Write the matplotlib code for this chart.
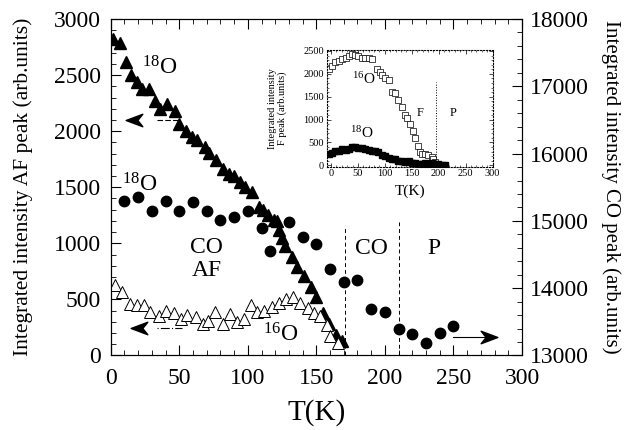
import matplotlib
matplotlib.use("Agg")
import matplotlib.pyplot as plt
from matplotlib.path import Path
from matplotlib.ticker import MultipleLocator

plt.rcParams['font.family'] = ['Liberation Serif', 'DejaVu Serif']
plt.rcParams['mathtext.fontset'] = 'custom'
plt.rcParams['mathtext.rm'] = 'Liberation Serif'

# AF peak, 18O sample (filled triangles, left axis)
af18_t = [2, 7, 11, 15, 19, 23, 28, 32, 36, 41, 47, 50, 55, 59, 63, 69, 72, 77, 82, 86,
          90, 94, 98, 103, 108, 111, 115, 119, 121, 123, 125, 127, 132, 136, 141, 146,
          150, 155, 159, 164, 169]
af18_y = [2820, 2790, 2620, 2505, 2435, 2380, 2380, 2270, 2195, 2240, 2180, 2060, 2000,
          1950, 1920, 1860, 1805, 1745, 1665, 1615, 1600, 1545, 1505, 1460, 1325, 1295,
          1255, 1210, 1195, 1120, 1045, 975, 880, 790, 705, 615, 520, 375, 285, 185, 125]

# AF peak, 16O sample (open triangles, left axis)
af16_t = [3, 8, 14, 19, 24, 29, 35, 40, 46, 51, 56, 62, 67, 71, 76, 82, 87, 92, 97, 102,
          107, 112, 118, 123, 128, 133, 138, 144, 148, 153, 158, 160, 166]
af16_y = [630, 570, 460, 450, 450, 390, 350, 395, 380, 325, 360, 345, 280, 310, 390, 285,
          370, 300, 325, 450, 390, 400, 435, 465, 500, 520, 470, 420, 375, 350, 270, 170, 115]

# CO peak, 18O sample (filled circles, right axis)
co18_t = [10, 20, 30, 40, 50, 60, 70, 80, 90, 100, 110, 116, 130, 140, 150, 160, 170, 180,
          190, 200, 210, 220, 230, 240, 250]
co18_y = [15300, 15360, 15140, 15300, 15140, 15275, 15140, 15015, 15065, 15150, 14890,
          14555, 14980, 14765, 14655, 14280, 14090, 14120, 13690, 13650, 13395, 13315,
          13180, 13340, 13440]

# inset: F peak for 16O (open squares) and 18O (filled squares)
f16_t = [-4, 2, 8, 14, 20, 27, 33, 39, 45, 51, 57, 64, 70, 76, 85, 91, 94, 101, 107, 113,
         119, 125, 132, 138, 141, 147, 153, 156, 162, 165, 169, 175, 181, 187, 190, 193,
         199, 206, 212]
f16_y = [2105, 2180, 2250, 2285, 2320, 2355, 2395, 2430, 2405, 2395, 2355, 2345, 2345,
         2320, 2105, 2035, 1965, 1915, 1855, 1605, 1570, 1430, 1285, 1105, 1035, 895, 750,
         605, 430, 285, 250, 250, 215, 180, 145, 70, 35, 0, 0]
f18_t = [-4, 2, 8, 14, 20, 27, 33, 39, 45, 51, 57, 64, 70, 76, 82, 88, 94, 101, 107, 113,
         119, 125, 132, 138, 144, 150, 156, 162, 169, 175, 181, 187, 193, 199, 206, 212]
f18_y = [250, 270, 320, 320, 355, 345, 355, 395, 405, 380, 370, 355, 345, 320, 320, 285,
         215, 195, 155, 145, 145, 105, 95, 70, 85, 50, 55, 35, 35, 55, 35, 50, 35, 20, 0, 0]

# phase boundaries
t_co = 171
t_p = 210
t_f = 195

# arrowhead markers
head_left = Path([(-1, 0), (1, 0.75), (0.4, 0), (1, -0.75), (-1, 0)],
                 [Path.MOVETO, Path.LINETO, Path.LINETO, Path.LINETO, Path.CLOSEPOLY])
head_right = Path([(1, 0), (-1, 0.75), (-0.4, 0), (-1, -0.75), (1, 0)],
                  [Path.MOVETO, Path.LINETO, Path.LINETO, Path.LINETO, Path.CLOSEPOLY])

fig = plt.figure(figsize=(6.38, 4.3), dpi=100)
ax = fig.add_axes([0.1735, 0.1733, 0.6447, 0.7825])
ax2 = ax.twinx()

ax.plot(af18_t, af18_y, ls='none', marker='^', ms=8, color='black', zorder=3)
ax.plot(af16_t, af16_y, ls='none', marker='^', ms=8, mfc='white', mec='black', mew=0.7, zorder=3)
ax2.plot(co18_t, co18_y, ls='none', marker='o', ms=7.5, color='black', zorder=3)

ax.set_xlim(0, 300)
ax.set_ylim(0, 3000)
ax2.set_ylim(13000, 18000)

# dashed phase lines
ax.plot([t_co, t_co], [0, 1150], ls=(0, (4, 3)), color='black', lw=0.7)
ax.plot([t_p, t_p], [0, 1190], ls=(0, (4, 3)), color='black', lw=0.7)

# arrows telling which axis each set belongs to
ax.plot([17], [2100], marker=head_left, ms=12, color='black', ls='none')
ax.plot([34, 49], [2100, 2100], ls=(0, (5, 2)), color='black', lw=0.8)
ax.plot([21], [242], marker=head_left, ms=12, color='black', ls='none')
ax.plot([34, 52], [242, 242], ls=(0, (1, 2, 8, 2)), color='black', lw=0.8)
ax2.plot([250, 276], [13270, 13270], color='black', lw=0.8)
ax2.plot([276], [13270], marker=head_right, ms=12, color='black', ls='none')

# labels in the plot
ax.text(36, 2560, r'$\mathregular{^{18}}$O', fontsize=17, ha='center', va='center')
ax.text(21, 1520, r'$\mathregular{^{18}}$O', fontsize=17, ha='center', va='center')
ax.text(124, 185, r'$\mathregular{^{16}}$O', fontsize=17, ha='center', va='center')
ax.text(70, 965, 'CO', fontsize=17, ha='center', va='center')
ax.text(70, 755, 'AF', fontsize=17, ha='center', va='center')
ax.text(190, 958, 'CO', fontsize=17, ha='center', va='center')
ax.text(236, 958, 'P', fontsize=17, ha='center', va='center')

ax.set_xlabel('T(K)', fontsize=21)
ax.set_ylabel('Integrated intensity AF peak (arb.units)', fontsize=15.5)
ax2.set_ylabel('Integrated intensity CO peak (arb.units)', fontsize=15, rotation=270)
ax.xaxis.set_label_coords(0.5, -0.171)
ax.yaxis.set_label_coords(-0.213, 0.5)
ax2.yaxis.set_label_coords(1.215, 0.5)
for lab in (ax.xaxis.label, ax.yaxis.label, ax2.yaxis.label):
    lab.set_ha('center')
    lab.set_va('center')

ax.xaxis.set_major_locator(MultipleLocator(50))
ax.xaxis.set_minor_locator(MultipleLocator(10))
ax.yaxis.set_major_locator(MultipleLocator(500))
ax.yaxis.set_minor_locator(MultipleLocator(100))
ax2.yaxis.set_major_locator(MultipleLocator(1000))
ax2.yaxis.set_minor_locator(MultipleLocator(200))

ax.tick_params(which='both', direction='in', top=True, right=False, labelsize=17)
ax.tick_params(which='major', length=7, width=0.8)
ax.tick_params(which='minor', length=3.5, width=0.6)
ax.tick_params(axis='y', pad=7)
ax.tick_params(axis='x', pad=9)
ax2.tick_params(which='both', direction='in', labelsize=17, pad=6)
ax2.tick_params(which='major', length=7, width=0.8)
ax2.tick_params(which='minor', length=3.5, width=0.6)
for a in (ax, ax2):
    for s in a.spines.values():
        s.set_linewidth(0.8)

# inset: F peak
ins = fig.add_axes([0.512, 0.6123, 0.260, 0.2714])
ins.set_facecolor('white')
ins.plot(f16_t, f16_y, ls='none', marker='s', ms=4, mfc='white', mec='black', mew=0.5)
ins.plot(f18_t, f18_y, ls='none', marker='s', ms=4, color='black')
ins.plot([t_f, t_f], [0, 1820], ls=':', color='black', lw=0.7)
ins.set_xlim(-8, 300)
ins.set_ylim(-30, 2520)
ins.xaxis.set_major_locator(MultipleLocator(50))
ins.xaxis.set_minor_locator(MultipleLocator(10))
ins.yaxis.set_major_locator(MultipleLocator(500))
ins.yaxis.set_minor_locator(MultipleLocator(100))
ins.tick_params(which='both', direction='in', top=True, right=True, labelsize=7.5, pad=2)
ins.tick_params(which='major', length=3, width=0.5)
ins.tick_params(which='minor', length=1.5, width=0.4)
for s in ins.spines.values():
    s.set_linestyle(':')
    s.set_linewidth(0.8)
ins.text(60, 1890, r'$\mathregular{^{16}}$O', fontsize=11, ha='center', va='center')
ins.text(57, 715, r'$\mathregular{^{18}}$O', fontsize=11, ha='center', va='center')
ins.text(165, 1140, 'F', fontsize=9, ha='center', va='center')
ins.text(227, 1140, 'P', fontsize=9, ha='center', va='center')
ins.set_xlabel('T(K)', fontsize=11, labelpad=4)
ins.set_ylabel('Integrated intensity\nF peak (arb.units)', fontsize=7.5, labelpad=12,
               linespacing=0.95)

fig.savefig('out.png', dpi=100)
